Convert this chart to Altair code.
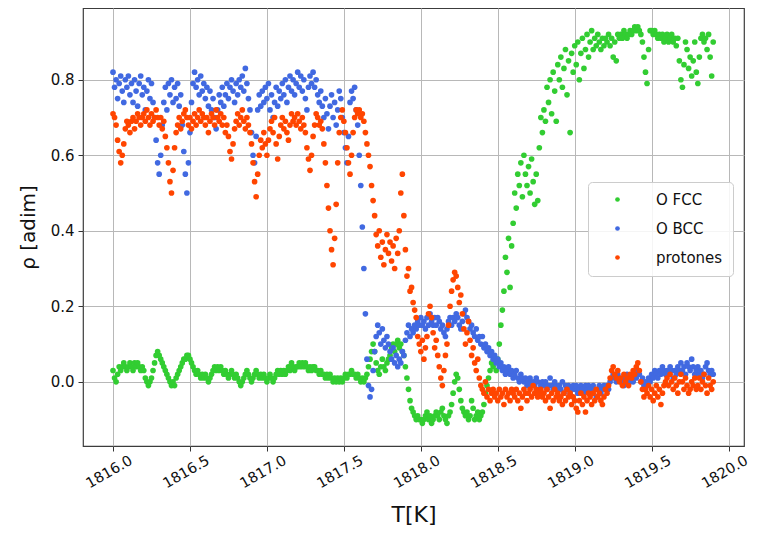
import altair as alt
import numpy as np
import pandas as pd

T_START = 1816.0
T_STEP = 0.01

o_fcc = [
    0.03, 0.01, 0.00, 0.02, 0.04, 0.03, 0.04, 0.05, 0.04, 0.03,
    0.04, 0.05, 0.04, 0.03, 0.05, 0.04, 0.05, 0.04, 0.03, 0.04,
    0.03, 0.01, 0.00, -0.01, 0.00, 0.01, 0.03, 0.05, 0.07, 0.08,
    0.07, 0.06, 0.05, 0.04, 0.03, 0.02, 0.01, 0.00, -0.01, 0.00,
    -0.01, 0.01, 0.02, 0.03, 0.04, 0.05, 0.06, 0.06, 0.07, 0.07,
    0.06, 0.05, 0.04, 0.03, 0.02, 0.03, 0.02, 0.01, 0.02, 0.01,
    0.02, 0.01, 0.00, 0.01, 0.02, 0.03, 0.04, 0.03, 0.04, 0.03,
    0.04, 0.03, 0.02, 0.03, 0.02, 0.01, 0.02, 0.03, 0.02, 0.01,
    0.02, 0.01, 0.00, -0.01, 0.00, 0.01, 0.02, 0.03, 0.02, 0.01,
    0.00, 0.01, 0.02, 0.03, 0.02, 0.01, 0.02, 0.01, 0.02, 0.01,
    0.00, 0.01, 0.02, 0.01, 0.00, 0.01, 0.02, 0.03, 0.02, 0.03,
    0.02, 0.03, 0.02, 0.03, 0.04, 0.03, 0.05, 0.04, 0.03, 0.04,
    0.04, 0.05, 0.04, 0.05, 0.04, 0.05, 0.04, 0.03, 0.04, 0.03,
    0.04, 0.04, 0.03, 0.03, 0.02, 0.03, 0.02, 0.02, 0.01, 0.02,
    0.01, 0.02, 0.01, 0.00, 0.01, 0.00, 0.01, 0.00, 0.01, 0.00,
    0.01, 0.02, 0.01, 0.02, 0.02, 0.03, 0.02, 0.02, 0.01, 0.02,
    0.01, 0.00, 0.01, 0.00, 0.01, 0.02, 0.04, 0.06, 0.08, 0.10,
    0.08, 0.05, 0.03, 0.02, 0.04, 0.06, 0.04, 0.03, 0.05, 0.06,
    0.07, 0.09, 0.10, 0.08, 0.10, 0.11, 0.09, 0.10, 0.08, 0.07,
    0.04, 0.01, -0.02, -0.05, -0.07, -0.08, -0.09, -0.10, -0.09, -0.10,
    -0.10, -0.11, -0.10, -0.09, -0.08, -0.10, -0.09, -0.11, -0.10, -0.09,
    -0.08, -0.09, -0.10, -0.08, -0.07, -0.09, -0.10, -0.11, -0.09, -0.08,
    -0.06, -0.03, 0.00, 0.02, 0.01, -0.02, -0.05, -0.07, -0.08, -0.09,
    -0.08, -0.10, -0.09, -0.05, -0.07, -0.10, -0.09, -0.08, -0.10, -0.09,
    -0.08, -0.06, -0.03, -0.01, 0.01, 0.03, 0.05, 0.04, 0.06, 0.03,
    0.06, 0.10, 0.15, 0.19, 0.24, 0.33, 0.29, 0.38, 0.25, 0.36,
    0.42, 0.50, 0.46, 0.55, 0.52, 0.58, 0.49, 0.60, 0.55, 0.52,
    0.57, 0.50, 0.59, 0.53, 0.47, 0.55, 0.48, 0.62, 0.70, 0.66,
    0.72, 0.69, 0.78, 0.74, 0.80, 0.71, 0.82, 0.77, 0.69, 0.84,
    0.80, 0.86, 0.78, 0.83, 0.88, 0.76, 0.85, 0.66, 0.87, 0.82,
    0.89, 0.84, 0.90, 0.80, 0.87, 0.91, 0.83, 0.88, 0.92, 0.86,
    0.90, 0.93, 0.88, 0.91, 0.89, 0.92, 0.90, 0.88, 0.91, 0.89,
    0.91, 0.90, 0.92, 0.89, 0.91, 0.86, 0.90, 0.85, 0.92, 0.91,
    0.92, 0.91, 0.93, 0.92, 0.91, 0.92, 0.93, 0.92, 0.93, 0.94,
    0.93, 0.94, 0.93, 0.92, 0.90, 0.86, 0.82, 0.79, 0.88, 0.93,
    0.93, 0.92, 0.93, 0.92, 0.91, 0.92, 0.91, 0.92, 0.90, 0.91,
    0.92, 0.90, 0.91, 0.92, 0.90, 0.91, 0.89, 0.91, 0.85, 0.80,
    0.78, 0.84, 0.90, 0.88, 0.83, 0.86, 0.81, 0.85, 0.90, 0.82,
    0.79, 0.86, 0.91, 0.92, 0.90, 0.91, 0.88, 0.92, 0.86, 0.81,
    0.90,
]

o_bcc = [
    0.82, 0.78, 0.80, 0.75, 0.79, 0.81, 0.77, 0.74, 0.80, 0.78,
    0.81, 0.76, 0.79, 0.74, 0.80, 0.77, 0.73, 0.79, 0.81, 0.76,
    0.78, 0.72, 0.77, 0.80, 0.75, 0.79, 0.74, 0.70, 0.64, 0.58,
    0.55, 0.60, 0.68, 0.74, 0.78, 0.72, 0.79, 0.76, 0.80, 0.74,
    0.78, 0.75, 0.79, 0.73, 0.76, 0.68, 0.61, 0.55, 0.50, 0.58,
    0.66, 0.74, 0.79, 0.82, 0.78, 0.80, 0.76, 0.81, 0.77, 0.79,
    0.75, 0.78, 0.73, 0.77, 0.72, 0.75, 0.70, 0.67, 0.72, 0.76,
    0.74, 0.78, 0.73, 0.76, 0.79, 0.75, 0.78, 0.80, 0.77, 0.74,
    0.79, 0.76, 0.80, 0.78, 0.81, 0.77, 0.83, 0.79, 0.75, 0.72,
    0.66, 0.60, 0.58, 0.65, 0.72, 0.76, 0.73, 0.77, 0.74, 0.78,
    0.75, 0.79, 0.72, 0.76, 0.70, 0.74, 0.78, 0.73, 0.77, 0.75,
    0.79, 0.76, 0.80, 0.74, 0.78, 0.81, 0.77, 0.80, 0.76, 0.79,
    0.82, 0.78, 0.81, 0.77, 0.80, 0.75, 0.72, 0.78, 0.81, 0.79,
    0.82, 0.78, 0.80, 0.76, 0.74, 0.77, 0.73, 0.70, 0.75, 0.71,
    0.67, 0.73, 0.76, 0.70, 0.74, 0.68, 0.72, 0.77, 0.75, 0.70,
    0.66, 0.62, 0.58, 0.65, 0.74, 0.77, 0.75, 0.78, 0.72, 0.68,
    0.60, 0.52, 0.41, 0.30, 0.18, 0.06, -0.01, -0.04, -0.02, 0.03,
    0.08, 0.12, 0.15, 0.13, 0.10, 0.14, 0.11, 0.09, 0.12, 0.10,
    0.08, 0.06, 0.09, 0.05, 0.07, 0.04, 0.06, 0.05, 0.08, 0.07,
    0.11, 0.13, 0.15, 0.12, 0.14, 0.13, 0.15, 0.14, 0.16, 0.15,
    0.17, 0.15, 0.16, 0.14, 0.17, 0.15, 0.18, 0.16, 0.15, 0.17,
    0.15, 0.17, 0.16, 0.14, 0.15, 0.13, 0.12, 0.14, 0.16, 0.17,
    0.15, 0.17, 0.16, 0.18, 0.17, 0.15, 0.14, 0.16, 0.18, 0.19,
    0.17, 0.16, 0.14, 0.15, 0.13, 0.12, 0.14, 0.11, 0.12, 0.10,
    0.12, 0.09, 0.10, 0.08, 0.09, 0.07, 0.08, 0.06, 0.07, 0.05,
    0.06, 0.04, 0.05, 0.03, 0.04, 0.02, 0.03, 0.04, 0.02, 0.03,
    0.01, 0.02, 0.03, 0.01, 0.00, 0.02, 0.01, 0.00, 0.01, -0.01,
    0.00, 0.01, -0.01, 0.00, -0.01, 0.01, 0.00, -0.02, -0.01, 0.00,
    -0.01, 0.00, -0.02, -0.01, 0.01, -0.01, -0.02, 0.00, -0.01, -0.02,
    -0.01, -0.02, 0.00, -0.03, -0.01, -0.02, -0.01, -0.03, -0.02, -0.01,
    -0.02, -0.01, -0.03, -0.02, -0.01, -0.02, -0.03, -0.01, -0.02, -0.01,
    -0.02, -0.03, -0.01, -0.02, -0.04, -0.02, -0.01, -0.03, -0.02, -0.01,
    -0.02, -0.01, -0.02, 0.00, 0.01, 0.02, 0.01, 0.00, 0.02, 0.01,
    0.00, 0.01, -0.01, 0.00, 0.02, 0.01, 0.00, 0.01, 0.00, 0.02,
    0.01, 0.03, 0.02, 0.00, 0.01, -0.01, 0.00, -0.01, 0.01, 0.00,
    0.02, 0.01, 0.03, 0.02, 0.01, 0.03, 0.02, 0.04, 0.03, 0.02,
    0.03, 0.02, 0.04, 0.03, 0.01, 0.03, 0.02, 0.04, 0.03, 0.05,
    0.03, 0.04, 0.02, 0.05, 0.04, 0.03, 0.06, 0.04, 0.02, 0.03,
    0.04, 0.02, 0.03, 0.01, 0.02, 0.04, 0.05, 0.03, 0.02, 0.03,
    0.02,
]

protones = [
    0.71, 0.70, 0.68, 0.64, 0.61, 0.58, 0.60, 0.63, 0.67, 0.69,
    0.68, 0.66, 0.69, 0.70, 0.67, 0.69, 0.71, 0.70, 0.68, 0.70,
    0.71, 0.69, 0.72, 0.70, 0.68, 0.71, 0.69, 0.70, 0.72, 0.70,
    0.68, 0.70, 0.67, 0.69, 0.65, 0.62, 0.58, 0.53, 0.50, 0.56,
    0.62, 0.66, 0.68, 0.70, 0.67, 0.69, 0.71, 0.72, 0.70, 0.68,
    0.70, 0.67, 0.69, 0.71, 0.68, 0.70, 0.72, 0.69, 0.71, 0.70,
    0.68, 0.70, 0.66, 0.69, 0.71, 0.70, 0.68, 0.72, 0.70, 0.69,
    0.71, 0.68, 0.70, 0.66, 0.68, 0.65, 0.61, 0.59, 0.63, 0.67,
    0.69, 0.71, 0.68, 0.70, 0.72, 0.69, 0.67, 0.70, 0.68, 0.66,
    0.63, 0.58, 0.53, 0.49, 0.55, 0.60, 0.64, 0.62, 0.66, 0.63,
    0.60, 0.64, 0.67, 0.69, 0.66, 0.70, 0.63, 0.59, 0.65, 0.68,
    0.70, 0.67, 0.69, 0.66, 0.64, 0.68, 0.71, 0.69, 0.70, 0.68,
    0.71, 0.69, 0.67, 0.70, 0.68, 0.66, 0.62, 0.59, 0.56, 0.60,
    0.65, 0.68, 0.71, 0.70, 0.68, 0.69, 0.67, 0.63, 0.58, 0.52,
    0.46, 0.40, 0.35, 0.31, 0.38, 0.47, 0.58, 0.66, 0.70, 0.72,
    0.69, 0.66, 0.62, 0.58, 0.55, 0.60, 0.66, 0.70, 0.72, 0.71,
    0.72, 0.70, 0.71, 0.69, 0.66, 0.63, 0.60, 0.57, 0.52, 0.48,
    0.44, 0.39, 0.36, 0.40, 0.33, 0.37, 0.31, 0.35, 0.39, 0.34,
    0.37, 0.32, 0.36, 0.30, 0.38, 0.34, 0.40, 0.50, 0.55, 0.44,
    0.35, 0.28, 0.30, 0.24, 0.25, 0.21, 0.19, 0.17, 0.12, 0.10,
    0.08, 0.11, 0.06, 0.09, 0.12, 0.18, 0.20, 0.17, 0.13, 0.09,
    0.11, 0.07, 0.04, 0.01, -0.01, 0.03, 0.07, 0.10, 0.15, 0.20,
    0.24, 0.27, 0.29, 0.28, 0.25, 0.21, 0.23, 0.18, 0.14, 0.10,
    0.13, 0.16, 0.11, 0.07, 0.09, 0.05, 0.03, 0.06, 0.01, -0.01,
    -0.02, -0.03, 0.00, -0.04, -0.02, -0.05, -0.03, -0.02, -0.04, -0.03,
    -0.05, -0.02, -0.04, -0.03, -0.06, -0.02, -0.04, -0.03, -0.05, -0.02,
    -0.03, -0.04, -0.02, -0.05, -0.03, -0.07, -0.04, -0.02, -0.03, -0.05,
    -0.03, -0.02, -0.04, -0.01, -0.03, -0.02, -0.04, -0.03, -0.02, -0.04,
    -0.03, -0.05, -0.02, -0.04, -0.07, -0.03, -0.05, -0.02, -0.04, -0.03,
    -0.05, -0.04, -0.06, -0.03, -0.05, -0.02, -0.04, -0.03, -0.06, -0.04,
    -0.05, -0.07, -0.08, -0.05, -0.03, -0.06, -0.04, -0.08, -0.05, -0.03,
    -0.04, -0.06, -0.03, -0.05, -0.02, -0.04, -0.03, -0.05, -0.06, -0.04,
    -0.02, -0.03, -0.01, 0.01, 0.03, 0.04, 0.02, 0.01, 0.03, 0.00,
    0.01, -0.01, 0.02, 0.00, 0.01, -0.01, 0.02, 0.01, 0.03, 0.02,
    0.04, 0.05, 0.03, 0.00, -0.02, -0.04, -0.02, -0.03, -0.01, -0.04,
    -0.02, -0.05, -0.03, -0.01, -0.04, -0.02, -0.06, -0.03, -0.01, 0.00,
    0.01, -0.01, 0.02, 0.00, -0.02, 0.01, -0.01, -0.03, 0.00, 0.02,
    0.00, -0.02, 0.01, -0.01, -0.03, -0.02, 0.00, -0.01, 0.01, -0.02,
    -0.01, 0.01, -0.02, 0.00, 0.02, -0.01, -0.03, 0.01, -0.01, -0.02,
    0.00,
]

series_names = ["O FCC", "O BCC", "protones"]
series_colors = ["#32cd32", "#4169e1", "#ff4500"]
x_ticks = [1816.0, 1816.5, 1817.0, 1817.5, 1818.0, 1818.5, 1819.0, 1819.5, 1820.0]
y_ticks = [0.0, 0.2, 0.4, 0.6, 0.8]

frames = []
for i, (name, vals) in enumerate(zip(series_names, [o_fcc, o_bcc, protones])):
    t = np.round(T_START + T_STEP * np.arange(len(vals)), 2)
    frames.append(pd.DataFrame({"T": t, "rho": vals, "serie": name, "orden": i}))
df = pd.concat(frames, ignore_index=True)

FONT = "DejaVu Sans"

chart = (
    alt.Chart(df)
    .mark_circle(size=32, opacity=1, clip=True)
    .encode(
        x=alt.X(
            "T:Q",
            scale=alt.Scale(domain=[1815.805, 1820.10], nice=False, zero=False),
            axis=alt.Axis(
                title="T[K]",
                values=x_ticks,
                format=".1f",
                labelAngle=330,
                labelAlign="center",
                labelBaseline="middle",
                labelPadding=21,
                labelOffset=-4,
                labelFontSize=14.5,
                titleFontSize=22,
                titleY=75,
                titleBaseline="alphabetic",
            ),
        ),
        y=alt.Y(
            "rho:Q",
            scale=alt.Scale(domain=[-0.17, 0.99], nice=False, zero=False),
            axis=alt.Axis(
                title="ρ [adim]",
                values=y_ticks,
                format=".1f",
                labelPadding=4,
                labelFontSize=15,
                titleFontSize=20,
                titlePadding=12,
            ),
        ),
        color=alt.Color(
            "serie:N",
            scale=alt.Scale(domain=series_names, range=series_colors),
            legend=alt.Legend(
                title=None,
                orient="none",
                legendX=505,
                legendY=174,
                direction="vertical",
                labelFont=FONT,
                labelFontSize=15,
                labelColor="#111111",
                symbolType="circle",
                symbolSize=22,
                symbolOpacity=1,
                symbolStrokeWidth=0,
                symbolOffset=12,
                labelOffset=31,
                padding=10,
                rowPadding=13,
                strokeColor="#cccccc",
                fillColor="rgba(255,255,255,0.85)",
                cornerRadius=4,
            ),
        ),
        order=alt.Order("orden:Q"),
    )
    .properties(
        width=661,
        height=438,
        autosize=alt.AutoSizeParams(type="none"),
        padding={"left": 75, "top": 0, "right": 9, "bottom": 81},
    )
    .configure_view(stroke="#3c3c3c", strokeWidth=1.2)
    .configure_axis(
        labelFont=FONT,
        titleFont=FONT,
        labelColor="#111111",
        titleColor="#111111",
        titleFontWeight="normal",
        grid=True,
        gridColor="#b8b8b8",
        gridWidth=1,
        domain=False,
        tickColor="#333333",
        tickSize=5,
        tickWidth=1,
    )
)

chart.save("out.html", embed_options={"renderer": "svg", "actions": False})
